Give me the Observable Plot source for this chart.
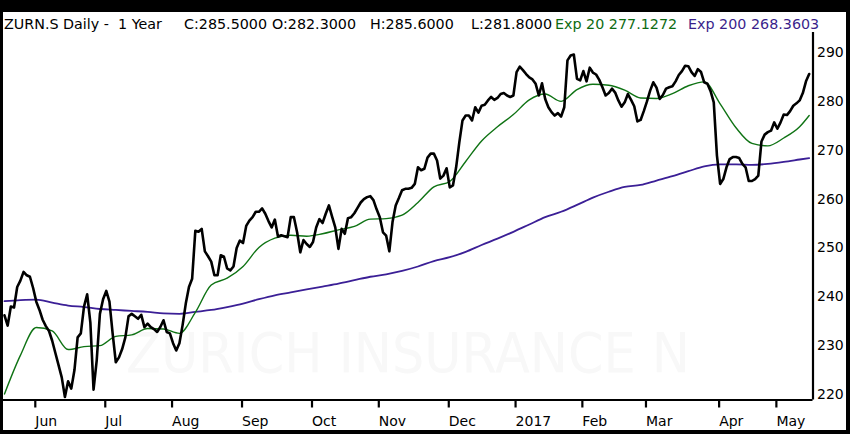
<!DOCTYPE html>
<html>
<head>
<meta charset="utf-8">
<script src="https://cdn.jsdelivr.net/npm/d3@7"></script>
<script src="https://cdn.jsdelivr.net/npm/@observablehq/plot@0.6"></script>
<style>
  html, body { margin: 0; padding: 0; background: #000; }
  #wrap { position: relative; width: 850px; height: 434px; background: #000; overflow: hidden; }
  #inner { position: absolute; left: 3px; top: 12px; width: 843px; height: 418px; background: #fff; }
  #wm { position: absolute; left: 0; top: 0; }
  #chart { position: absolute; left: 0; top: 0; }
  .t { position: absolute; top: 15.5px; font-family: "DejaVu Sans", sans-serif; font-size: 14.3px; line-height: 17px; white-space: pre; color: #000; }
</style>
</head>
<body>
<div id="wrap">
  <div id="inner"></div>
  <svg id="wm" width="850" height="434"><text id="wmtext" x="126" y="372" font-family="DejaVu Sans, sans-serif" font-size="55" fill="#f8f8f8" textLength="564" lengthAdjust="spacingAndGlyphs"></text></svg>
  <div id="chart"></div>
</div>
<script>
// Daily closes (trading-day index 0..253)
const closes = [
  236.2, 234.1, 238.0, 237.8, 242.0, 243.3, 245.1, 244.4, 244.1, 241.8,
  239.0, 237.3, 235.3, 234.0, 233.0, 231.0, 228.5, 226.0, 223.5, 219.5,
  222.7, 221.2, 225.0, 231.7, 232.5, 238.0, 240.5, 234.7, 221.0, 227.0,
  236.5, 239.5, 241.2, 239.0, 232.5, 226.6, 227.6, 229.3, 231.7, 236.0,
  236.5, 236.0, 235.5, 236.3, 233.8, 234.5, 233.8, 233.4, 232.8, 233.8,
  235.2, 232.8, 232.5, 230.5, 229.0, 230.5, 234.2, 238.6, 242.0, 243.7,
  253.5, 253.3, 253.9, 249.3, 248.3, 247.2, 244.4, 244.4, 248.5, 248.2,
  245.8, 245.4, 246.2, 250.0, 251.5, 251.0, 254.5, 255.6, 256.3, 257.4,
  257.4, 258.1, 257.0, 255.5,
  254.2, 255.8, 252.3, 252.6, 252.4, 252.2, 256.3, 256.3, 253.2, 249.1,
  251.6, 250.8, 250.2, 251.2, 254.2, 255.9, 255.1, 257.0, 258.7, 256.4,
  254.2, 249.8, 253.9, 252.9, 256.1, 256.3, 257.1, 258.2, 259.3, 260.0,
  260.4, 260.6, 259.8, 257.9, 256.3, 253.2, 252.5, 249.3, 255.3, 258.7,
  260.2, 261.8, 262.1, 262.1, 262.3, 263.1, 266.5, 265.9, 266.2, 268.5,
  269.3, 269.3, 267.9, 264.2, 264.8, 266.3, 262.4, 262.8, 266.5, 271.6,
  276.1, 277.1, 277.1, 276.1, 278.8, 277.7, 279.1, 279.3, 280.2, 280.9,
  280.3, 280.7, 281.5, 281.7, 281.2, 280.9, 281.2, 286.0, 287.1, 286.4,
  285.6, 284.9, 284.5, 283.6,
  281.2, 283.7, 280.5, 278.8, 277.8, 277.1, 277.6, 276.9, 278.8, 288.4,
  289.4, 289.6, 284.6, 284.3, 286.2, 284.1, 286.9, 285.9, 285.5, 284.4,
  282.9, 281.2, 281.7, 282.6, 281.8, 280.2, 278.9, 279.8, 281.5, 280.3,
  279.0, 275.9, 276.2, 278.0, 280.0, 282.2, 283.9, 282.8, 280.5, 281.3,
  282.6, 282.9, 283.1, 284.1, 285.4, 286.2, 287.3, 287.2, 286.0, 285.2,
  286.6, 286.0, 283.9, 283.6, 282.1, 279.8, 268.9, 263.1, 264.1, 266.5,
  268.2, 268.6, 268.6, 268.4, 267.2, 266.5, 263.7, 263.7, 264.1, 264.8,
  271.8, 273.2, 273.7, 274.0, 275.7, 274.4, 275.7, 277.3, 277.2, 278.0,
  279.1, 279.6, 280.2, 281.7, 284.1, 285.6
];

// Moving averages read every 5 trading days
const emaDays = [0,5,10,15,20,25,30,35,40,45,50,55,60,65,70,75,80,85,90,95,100,105,110,115,120,125,130,135,140,145,150,155,160,165,170,175,180,185,190,195,200,205,210,215,220,225,230,235,240,245,250,253];
const ema20 = [220.1, 228.0, 233.7, 233.0, 229.2, 229.8, 230.0, 231.9, 232.2, 233.5, 233.4, 232.5, 236.8, 242.4, 243.8, 246.2, 250.1, 252.0, 252.6, 252.4, 252.9, 253.7, 254.4, 255.9, 256.0, 256.7, 259.3, 262.5, 263.6, 267.7, 271.9, 274.8, 277.3, 280.3, 281.5, 280.0, 282.4, 283.5, 283.3, 282.3, 280.7, 280.6, 281.6, 283.2, 284.0, 279.5, 274.6, 271.4, 270.9, 272.5, 274.8, 277.1];
const ema200 = [239.1, 239.3, 239.4, 238.8, 238.2, 237.9, 237.5, 237.3, 237.1, 236.9, 236.6, 236.5, 236.9, 237.3, 237.9, 238.6, 239.5, 240.3, 240.9, 241.5, 242.1, 242.7, 243.4, 244.1, 244.6, 245.3, 246.2, 247.3, 248.1, 249.2, 250.6, 251.9, 253.3, 254.8, 256.3, 257.4, 258.8, 260.3, 261.5, 262.5, 262.9, 263.8, 264.7, 265.7, 266.7, 267.1, 267.1, 267.0, 267.2, 267.6, 268.1, 268.4];

// Month ticks (first trading day of each month) and labels
const monthDays = [10, 32, 53, 75, 97, 118, 140, 161, 182, 202, 225, 243];
const monthLabels = ["Jun", "Jul", "Aug", "Sep", "Oct", "Nov", "Dec", "2017", "Feb", "Mar", "Apr", "May"];
const yTicks = [220, 230, 240, 250, 260, 270, 280, 290];
const xDomain = [-0.31, 254.2];
const yDomain = [218.87, 294.1];

const titleParts = [
  {text: "ZURN.S Daily -  1 Year", left: 4, color: "#000"},
  {text: "C:285.5000", left: 184, color: "#000"},
  {text: "O:282.3000", left: 272, color: "#000"},
  {text: "H:285.6000", left: 370, color: "#000"},
  {text: "L:281.8000", left: 471, color: "#000"},
  {text: "Exp 20 277.1272", left: 555, color: "#0d6b12"},
  {text: "Exp 200 268.3603", left: 688, color: "#3a1f8c"}
];
const watermark = "ZURICH INSURANCE N";

const wrap = document.getElementById("wrap");
for (const p of titleParts) {
  const s = document.createElement("div");
  s.className = "t";
  s.textContent = p.text;
  s.style.left = p.left + "px";
  s.style.color = p.color;
  wrap.appendChild(s);
}
document.getElementById("wmtext").textContent = watermark;

const priceData = closes.map((c, i) => ({day: i, value: c}));
const emaData = emaDays.map((d, i) => ({day: d, e20: ema20[i], e200: ema200[i]}));
const labelOf = new Map(monthDays.map((d, i) => [d, monthLabels[i]]));

const chart = Plot.plot({
  width: 850,
  height: 434,
  marginLeft: 3,
  marginRight: 37.5,
  marginTop: 32,
  marginBottom: 34.5,
  style: {background: "transparent", fontFamily: "DejaVu Sans, sans-serif", fontSize: "14px", color: "#000"},
  x: {type: "linear", domain: xDomain, axis: null},
  y: {domain: yDomain, axis: null},
  marks: [
    Plot.line(emaData, {x: "day", y: "e200", stroke: "#3b1f96", strokeWidth: 1.8, curve: "monotone-x"}),
    Plot.line(emaData, {x: "day", y: "e20", stroke: "#0f7314", strokeWidth: 1.4, curve: "monotone-x"}),
    Plot.line(priceData, {x: "day", y: "value", stroke: "#000", strokeWidth: 2.6, strokeLinejoin: "round"}),
    Plot.ruleY([yDomain[0]], {stroke: "#000", strokeWidth: 2.2}),
    Plot.ruleX([xDomain[1]], {stroke: "#000", strokeWidth: 2.2}),
    Plot.axisX(monthDays, {
      tickSize: 8, tickPadding: 8, strokeWidth: 2.2,
      tickFormat: d => labelOf.get(d),
      textAnchor: "start", dx: -1, fontSize: 14, label: null, fill: "#000"
    }),
    Plot.axisY(yTicks, {
      anchor: "right", tickSize: 0, tickPadding: 4, fontSize: 14, label: null, fill: "#000"
    })
  ]
});
document.getElementById("chart").appendChild(chart);
</script>
</body>
</html>
